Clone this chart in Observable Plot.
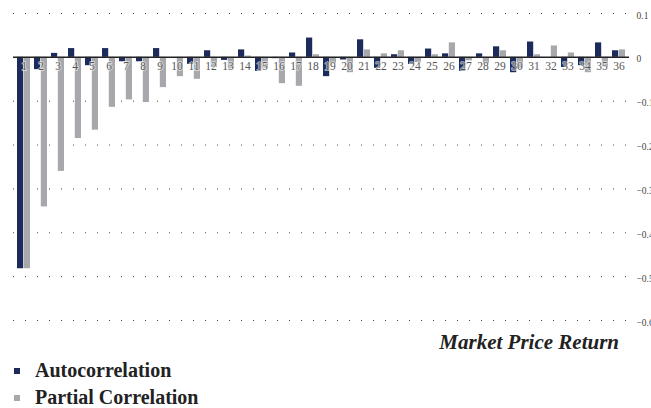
<!DOCTYPE html>
<html>
<head>
<meta charset="utf-8">
<script src="https://cdn.jsdelivr.net/npm/d3@7"></script>
<script src="https://cdn.jsdelivr.net/npm/@observablehq/plot@0.6"></script>
<style>
  html, body { margin: 0; padding: 0; background: #fff; overflow: hidden; width: 651px; height: 408px; }
  #chart svg { overflow: hidden; display: block; }
  .title { font-family: "Liberation Serif", serif; font-weight: bold; font-style: italic; font-size: 21px; color: #222; text-align: right; width: 619px; line-height: 22px; margin-top: 3px; }
  .legend { font-family: "Liberation Serif", serif; font-weight: bold; font-size: 20px; color: #222; margin-left: 14px; margin-top: 4px; }
  .legend .item { display: flex; align-items: center; height: 27px; }
  .legend .sw { width: 6px; height: 6px; margin-right: 15px; }
</style>
</head>
<body>
<div id="chart"></div>
<script>
const lags = d3.range(1, 37);
const autocorrelation = [-0.482, -0.028, 0.009, 0.02, -0.019, 0.02, -0.01, -0.01, 0.02, 0.0, -0.016, 0.015, -0.007, 0.017, -0.032, -0.003, 0.01, 0.044, -0.044, -0.006, 0.04, -0.025, 0.006, -0.016, 0.019, 0.008, -0.032, 0.008, 0.024, -0.035, 0.035, 0.0, -0.023, -0.019, 0.033, 0.015];
const partialCorrelation = [-0.482, -0.341, -0.26, -0.185, -0.166, -0.114, -0.097, -0.103, -0.069, -0.044, -0.05, -0.023, -0.026, 0.003, -0.025, -0.06, -0.066, 0.006, -0.015, -0.035, 0.017, 0.008, 0.015, -0.012, 0.006, 0.033, -0.008, -0.015, 0.015, -0.026, 0.006, 0.026, 0.01, -0.035, -0.022, 0.017];
const yTicks = [0.1, 0, -0.1, -0.2, -0.3, -0.4, -0.5, -0.6];
const seriesNames = ["Autocorrelation", "Partial Correlation"];
const seriesColors = ["#1d2a5c", "#a7a8ac"];

const acRows = lags.map((lag, i) => ({lag, value: autocorrelation[i]}));
const pcRows = lags.map((lag, i) => ({lag, value: partialCorrelation[i]}));

const plot = Plot.plot({
  width: 651,
  height: 328,
  marginTop: 13,
  marginBottom: 8,
  marginLeft: 13,
  marginRight: 22,
  x: {type: "band", domain: lags, paddingInner: 0.24, paddingOuter: 0.12, axis: null},
  y: {domain: [-0.6, 0.1], axis: null},
  style: {fontFamily: "Liberation Serif, serif", background: "#fff"},
  marks: [
    Plot.ruleY(yTicks.filter(d => d !== 0), {stroke: "#444", strokeWidth: 1, strokeDasharray: "1,11"}),
    Plot.barY(acRows, {x: "lag", y: "value", fill: seriesColors[0], insetRight: 6.8}),
    Plot.barY(pcRows, {x: "lag", y: "value", fill: seriesColors[1], insetLeft: 6.8}),
    Plot.ruleY([0], {stroke: "#222", strokeWidth: 1.5}),
    Plot.text(lags, {x: d => d, y: () => 0, text: d => String(d), dy: 9, fontSize: 11.5, fill: "#555", stroke: "white", strokeWidth: 1.5, strokeOpacity: 0.7}),
    Plot.axisY(yTicks, {anchor: "right", label: null, tickSize: 0, tickPadding: 7, dy: 2, fontSize: 9.5, fill: "#444",
      tickFormat: d => d === 0 ? "0" : d3.format(".1f")(d), textAnchor: "start"})
  ]
});
document.getElementById("chart").appendChild(plot);

const title = document.createElement("div");
title.className = "title";
title.textContent = "Market Price Return";
document.body.appendChild(title);

const legend = document.createElement("div");
legend.className = "legend";
seriesNames.forEach((name, i) => {
  const item = document.createElement("div");
  item.className = "item";
  const sw = document.createElement("span");
  sw.className = "sw";
  sw.style.background = seriesColors[i];
  const label = document.createElement("span");
  label.textContent = name;
  item.appendChild(sw);
  item.appendChild(label);
  legend.appendChild(item);
});
document.body.appendChild(legend);
</script>
</body>
</html>
